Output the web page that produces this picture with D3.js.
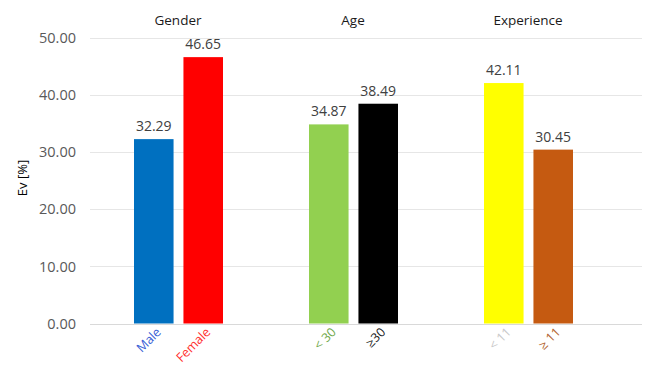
<!DOCTYPE html>
<html>
<head>
<meta charset="utf-8">
<script src="https://cdn.jsdelivr.net/npm/d3@7"></script>
<style>
  body { margin: 0; background: #fff; }
  text { font-family: "Open Sans", "Noto Sans", sans-serif; }
</style>
</head>
<body>
<script>
var groups = ["Gender", "Age", "Experience"];
var seriesSlots = ["first", "second"];
var barLabels = [["Male", "Female"], ["< 30", "\u226530"], ["< 11", "\u2265 11"]];
var barValues = [[32.29, 46.65], [34.87, 38.49], [42.11, 30.45]];
var barColors = [["#0070c0", "#ff0000"], ["#92d050", "#000000"], ["#ffff00", "#c55a11"]];
var labelColors = [["#3a5fd6", "#ff3030"], ["#70a84a", "#1a1a1a"], ["#c8c8c8", "#b0602a"]];
var yTicks = [0, 10, 20, 30, 40, 50];

var W = 650, H = 365;
var svg = d3.select("body").append("svg")
    .attr("width", W)
    .attr("height", H);

var x0 = d3.scaleBand()
    .domain(groups)
    .range([90.5, 615.5]);

var x1 = d3.scaleBand()
    .domain(seriesSlots)
    .range([43.5, 132.5])
    .paddingInner(0.2);

var y = d3.scaleLinear()
    .domain([0, 50])
    .range([323.5, 38]);

// gridlines
svg.append("g")
    .selectAll("line")
    .data(yTicks)
  .enter().append("line")
    .attr("x1", 90)
    .attr("x2", 642)
    .attr("y1", d => Math.round(y(d)) + 0.5)
    .attr("y2", d => Math.round(y(d)) + 0.5)
    .attr("stroke", d => d === 0 ? "#d9d9d9" : "#e6e6e6")
    .attr("stroke-width", 1);

// y axis labels
var yAxis = d3.axisLeft(y)
    .tickValues(yTicks)
    .tickSize(0)
    .tickPadding(0)
    .tickFormat(d3.format(".2f"));

var ya = svg.append("g")
    .attr("transform", "translate(76,0)")
    .call(yAxis);
ya.select(".domain").remove();
ya.selectAll("text")
    .attr("fill", "#595959")
    .style("font-size", "14.5px")
    .style("font-family", "'Open Sans', sans-serif");

svg.append("text")
    .attr("transform", "translate(27,178) rotate(-90)")
    .attr("text-anchor", "middle")
    .style("font-size", "13px")
    .attr("fill", "#000")
    .text("Ev [%]");

// group titles
svg.append("g")
    .selectAll("text")
    .data(groups)
  .enter().append("text")
    .attr("x", d => x0(d) + x0.bandwidth() / 2)
    .attr("y", 25)
    .attr("text-anchor", "middle")
    .style("font-size", "13.5px")
    .attr("fill", "#1a1a1a")
    .text(d => d);

// bars
var slice = svg.selectAll(".slice")
    .data(groups)
  .enter().append("g")
    .attr("class", "slice")
    .attr("transform", d => "translate(" + x0(d) + ",0)");

var items = (d, gi) => seriesSlots.map((s, si) => ({ s: s, gi: gi, si: si, v: barValues[gi][si] }));

slice.selectAll("rect")
    .data(items)
  .enter().append("rect")
    .attr("x", d => x1(d.s))
    .attr("width", x1.bandwidth())
    .attr("y", d => y(d.v))
    .attr("height", d => y(0) - y(d.v))
    .attr("fill", d => barColors[d.gi][d.si]);

slice.selectAll(".val")
    .data(items)
  .enter().append("text")
    .attr("class", "val")
    .attr("x", d => x1(d.s) + x1.bandwidth() / 2)
    .attr("y", d => y(d.v) - 8)
    .attr("text-anchor", "middle")
    .style("font-size", "14px")
    .attr("fill", "#404040")
    .text(d => d.v.toFixed(2));

// rotated category labels
var cat = slice.selectAll(".cat")
    .data(items)
  .enter().append("g")
    .attr("class", "cat")
    .attr("transform", d => "translate(" + (x1(d.s) + x1.bandwidth() / 2 + 8) + ",333)");

cat.append("text")
    .attr("transform", "rotate(-45)")
    .attr("text-anchor", "end")
    .style("font-size", "12.5px")
    .attr("fill", d => labelColors[d.gi][d.si])
    .text(d => barLabels[d.gi][d.si]);
</script>
</body>
</html>
